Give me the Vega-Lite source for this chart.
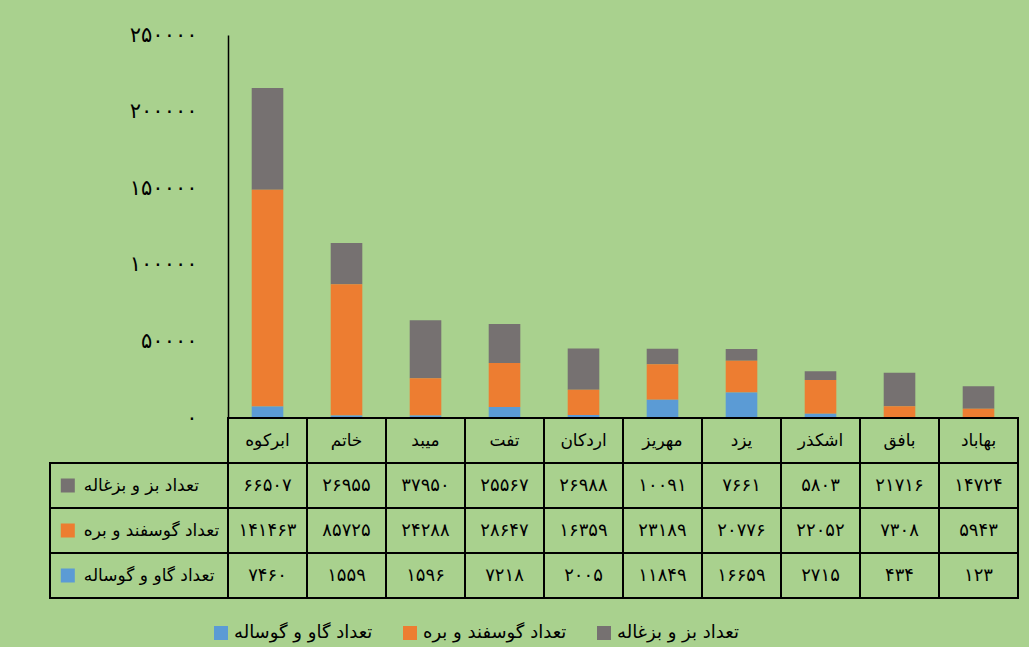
{
  "$schema": "https://vega.github.io/schema/vega-lite/v6.json",
  "background": "#a9d18e",
  "padding": {"left": 49, "top": 24, "right": 10, "bottom": 5},
  "config": {
    "view": {"stroke": null},
    "font": "DejaVu Sans",
    "legend": {"orient": "none", "legendX": 162, "legendY": 589, "direction": "horizontal", "labelFontSize": 18, "labelColor": "black", "symbolType": "square", "symbolSize": 196, "symbolStrokeWidth": 0, "columnPadding": 28, "labelLimit": 400}
  },
  "data": {"values": [
    {"city": "ابرکوه", "series": "تعداد بز و بزغاله", "value": 66507},
    {"city": "ابرکوه", "series": "تعداد گوسفند و بره", "value": 141463},
    {"city": "ابرکوه", "series": "تعداد گاو و گوساله", "value": 7460},
    {"city": "خاتم", "series": "تعداد بز و بزغاله", "value": 26955},
    {"city": "خاتم", "series": "تعداد گوسفند و بره", "value": 85725},
    {"city": "خاتم", "series": "تعداد گاو و گوساله", "value": 1559},
    {"city": "میبد", "series": "تعداد بز و بزغاله", "value": 37950},
    {"city": "میبد", "series": "تعداد گوسفند و بره", "value": 24288},
    {"city": "میبد", "series": "تعداد گاو و گوساله", "value": 1596},
    {"city": "تفت", "series": "تعداد بز و بزغاله", "value": 25567},
    {"city": "تفت", "series": "تعداد گوسفند و بره", "value": 28647},
    {"city": "تفت", "series": "تعداد گاو و گوساله", "value": 7218},
    {"city": "اردکان", "series": "تعداد بز و بزغاله", "value": 26988},
    {"city": "اردکان", "series": "تعداد گوسفند و بره", "value": 16359},
    {"city": "اردکان", "series": "تعداد گاو و گوساله", "value": 2005},
    {"city": "مهریز", "series": "تعداد بز و بزغاله", "value": 10091},
    {"city": "مهریز", "series": "تعداد گوسفند و بره", "value": 23189},
    {"city": "مهریز", "series": "تعداد گاو و گوساله", "value": 11849},
    {"city": "یزد", "series": "تعداد بز و بزغاله", "value": 7661},
    {"city": "یزد", "series": "تعداد گوسفند و بره", "value": 20776},
    {"city": "یزد", "series": "تعداد گاو و گوساله", "value": 16659},
    {"city": "اشکذر", "series": "تعداد بز و بزغاله", "value": 5803},
    {"city": "اشکذر", "series": "تعداد گوسفند و بره", "value": 22052},
    {"city": "اشکذر", "series": "تعداد گاو و گوساله", "value": 2715},
    {"city": "بافق", "series": "تعداد بز و بزغاله", "value": 21716},
    {"city": "بافق", "series": "تعداد گوسفند و بره", "value": 7308},
    {"city": "بافق", "series": "تعداد گاو و گوساله", "value": 434},
    {"city": "بهاباد", "series": "تعداد بز و بزغاله", "value": 14724},
    {"city": "بهاباد", "series": "تعداد گوسفند و بره", "value": 5943},
    {"city": "بهاباد", "series": "تعداد گاو و گوساله", "value": 123}
  ]},
  "transform": [
    {"calculate": "replace(replace(replace(replace(replace(replace(replace(replace(replace(replace(format(datum.value,'d'),regexp('0','g'),'۰'),regexp('1','g'),'۱'),regexp('2','g'),'۲'),regexp('3','g'),'۳'),regexp('4','g'),'۴'),regexp('5','g'),'۵'),regexp('6','g'),'۶'),regexp('7','g'),'۷'),regexp('8','g'),'۸'),regexp('9','g'),'۹')", "as": "fa"},
    {"calculate": "indexof(['تعداد گاو و گوساله', 'تعداد گوسفند و بره', 'تعداد بز و بزغاله'], datum.series)", "as": "ord"}
  ],
  "columns": 2,
  "spacing": 0,
  "bounds": "flush",
  "concat": [
    {
      "width": 178,
      "height": 383,
      "data": {"values": []},
      "mark": "point",
      "encoding": {}
    },
    {
      "width": 790,
      "height": 383,
      "mark": {"type": "bar"},
      "encoding": {
        "x": {"field": "city", "type": "nominal", "scale": {"domain": ["ابرکوه","خاتم","میبد","تفت","اردکان","مهریز","یزد","اشکذر","بافق","بهاباد"], "paddingInner": 0.6, "paddingOuter": 0.3}, "axis": null},
        "y": {"field": "value", "type": "quantitative", "stack": "zero", "scale": {"domain": [0, 250000], "nice": false},
          "axis": {"title": null, "values": [0, 50000, 100000, 150000, 200000, 250000], "grid": false, "ticks": false, "domainColor": "black", "domainWidth": 1.5, "labelPadding": 31, "labelFontSize": 21, "labelColor": "black",
            "labelExpr": "replace(replace(replace(replace(replace(replace(replace(replace(replace(replace(format(datum.value,'d'),regexp('0','g'),'۰'),regexp('1','g'),'۱'),regexp('2','g'),'۲'),regexp('3','g'),'۳'),regexp('4','g'),'۴'),regexp('5','g'),'۵'),regexp('6','g'),'۶'),regexp('7','g'),'۷'),regexp('8','g'),'۸'),regexp('9','g'),'۹')"}},
        "color": {"field": "series", "type": "nominal", "sort": ["تعداد گاو و گوساله", "تعداد گوسفند و بره", "تعداد بز و بزغاله"], "scale": {"range": ["#5b9bd5", "#ed7d31", "#767171"]}, "legend": {"title": null}},
        "order": {"field": "ord", "type": "quantitative", "sort": "ascending"}
      }
    },
    {
      "width": 178,
      "height": 180,
      "transform": [{"filter": "datum.city === 'یزد'"}],
      "layer": [
        {
          "mark": {"type": "rect", "filled": false, "stroke": "black", "strokeWidth": 2},
          "encoding": {
            "y": {"field": "series", "type": "nominal", "scale": {"domain": ["h", "تعداد بز و بزغاله", "تعداد گوسفند و بره", "تعداد گاو و گوساله"], "paddingInner": 0, "paddingOuter": 0}, "axis": null}
          }
        },
        {
          "mark": {"type": "point", "shape": "square", "filled": true, "size": 196, "opacity": 1, "strokeWidth": 0},
          "encoding": {
            "y": {"field": "series", "type": "nominal", "axis": null},
            "x": {"datum": 1, "type": "quantitative", "scale": {"domain": [0, 10], "nice": false, "zero": false}, "axis": null},
            "color": {"field": "series", "type": "nominal", "sort": ["تعداد گاو و گوساله", "تعداد گوسفند و بره", "تعداد بز و بزغاله"], "legend": {"title": null}}
          }
        },
        {
          "mark": {"type": "text", "align": "left", "fontSize": 17, "color": "black"},
          "encoding": {
            "y": {"field": "series", "type": "nominal", "axis": null},
            "x": {"datum": 1.9, "type": "quantitative"},
            "text": {"field": "series"}
          }
        }
      ]
    },
    {
      "width": 790,
      "height": 180,
      "layer": [
        {
          "mark": {"type": "rect", "filled": false, "stroke": "black", "strokeWidth": 2},
          "encoding": {
            "x": {"field": "city", "type": "nominal", "scale": {"domain": ["ابرکوه","خاتم","میبد","تفت","اردکان","مهریز","یزد","اشکذر","بافق","بهاباد"], "paddingInner": 0, "paddingOuter": 0}, "axis": null},
            "y": {"field": "series", "type": "nominal", "scale": {"domain": ["h", "تعداد بز و بزغاله", "تعداد گوسفند و بره", "تعداد گاو و گوساله"], "paddingInner": 0, "paddingOuter": 0}, "axis": null}
          }
        },
        {
          "transform": [{"filter": "datum.series === 'تعداد بز و بزغاله'"}],
          "mark": {"type": "rect", "filled": false, "stroke": "black", "strokeWidth": 2},
          "encoding": {
            "x": {"field": "city", "type": "nominal", "axis": null},
            "y": {"datum": "h", "type": "nominal", "axis": null}
          }
        },
        {
          "mark": {"type": "text", "fontSize": 18, "color": "black"},
          "encoding": {
            "x": {"field": "city", "type": "nominal", "axis": null},
            "y": {"field": "series", "type": "nominal", "axis": null},
            "text": {"field": "fa"}
          }
        },
        {
          "transform": [{"filter": "datum.series === 'تعداد بز و بزغاله'"}],
          "mark": {"type": "text", "fontSize": 17, "color": "black"},
          "encoding": {
            "x": {"field": "city", "type": "nominal", "axis": null},
            "y": {"datum": "h", "type": "nominal", "axis": null},
            "text": {"field": "city"}
          }
        }
      ]
    }
  ]
}
